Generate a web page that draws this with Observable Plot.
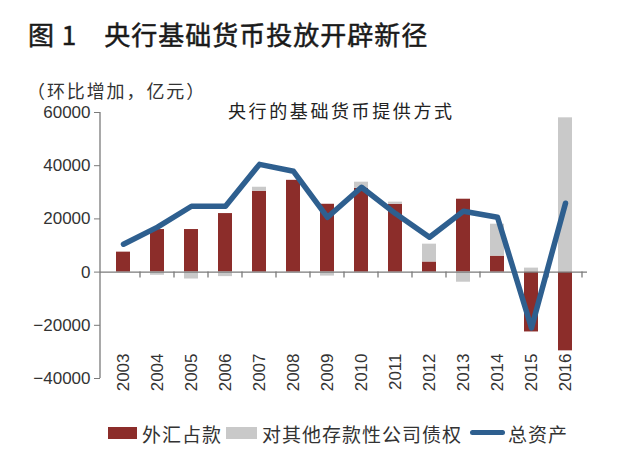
<!DOCTYPE html>
<html>
<head>
<meta charset="utf-8">
<script src="https://cdn.jsdelivr.net/npm/d3@7"></script>
<script src="https://cdn.jsdelivr.net/npm/@observablehq/plot@0.6"></script>
<style>
  html, body { margin: 0; padding: 0; background: #fff; }
  #wrap { position: relative; width: 640px; height: 458px; overflow: hidden; font-family: "Noto Sans CJK SC", "Noto Sans", sans-serif; color: #222; }
  .abs { position: absolute; white-space: nowrap; line-height: 1; }
  #title { left: 28px; top: 21px; font-size: 26px; font-weight: 400; -webkit-text-stroke: 0.5px #1a1a1a; letter-spacing: 1px; color: #1a1a1a; }
  #subtitle { left: 27px; top: 81px; font-size: 18px; letter-spacing: 1.9px; color: #333; }
  #inner { left: 228px; top: 101px; font-size: 18px; letter-spacing: 2.6px; color: #222; }
  #chart { position: absolute; left: 0; top: 100px; }
  .sw { position: absolute; }
  .lg { font-size: 19px; letter-spacing: 1px; color: #333; top: 424px; }
</style>
</head>
<body>
<div id="wrap">
  <div id="title" class="abs">图 1　央行基础货币投放开辟新径</div>
  <div id="subtitle" class="abs">（环比增加，亿元）</div>
  <div id="chart"></div>
  <div id="inner" class="abs">央行的基础货币提供方式</div>
  <div class="sw" style="left:108px;top:427px;width:29px;height:12px;background:#8c2d2a"></div>
  <div class="abs lg" style="left:142px">外汇占款</div>
  <div class="sw" style="left:226px;top:427px;width:31px;height:12px;background:#c9c9c9"></div>
  <div class="abs lg" style="left:262px">对其他存款性公司债权</div>
  <div class="sw" style="left:470px;top:430px;width:35px;height:5px;border-radius:2.5px;background:#2e5f8f"></div>
  <div class="abs lg" style="left:508px">总资产</div>
</div>
<script>
const years = ["2003","2004","2005","2006","2007","2008","2009","2010","2011","2012","2013","2014","2015","2016"];
const seriesNames = ["外汇占款", "对其他存款性公司债权"];
const fxValues    = [7500, 16000, 16000, 22000, 30400, 34500, 25500, 31500, 25500, 3800, 27400, 6000, -22500, -29600];
const otherValues = [0, -1200, -2600, -1700, 1500, 0, -1500, 2300, 800, 6700, -3800, 12000, 1500, 58000];
const totalValues = [10500, 16900, 24750, 24750, 40500, 37900, 20600, 31900, 22000, 13100, 22900, 20600, -21000, 25900];
const yTicks = [-40000, -20000, 0, 20000, 40000, 60000];
const yDomain = [-40000, 60000];

const red = "#8c2d2a", gray = "#c9c9c9", blue = "#2e5f8f", axisColor = "#7a7a7a";

const barRows = [
  ...years.map((y, i) => ({year: y, series: seriesNames[0], value: fxValues[i]})),
  ...years.map((y, i) => ({year: y, series: seriesNames[1], value: otherValues[i]}))
];
const totalRows = years.map((y, i) => ({year: y, value: totalValues[i]}));

function axisLines(index, scales, values, dimensions) {
  const {x, y} = scales;
  const g = d3.create("svg:g").attr("stroke", axisColor).attr("stroke-width", 1.3).attr("fill", "none");
  const step = x.step();
  g.append("line")
    .attr("x1", dimensions.marginLeft).attr("x2", dimensions.marginLeft)
    .attr("y1", y(yDomain[1])).attr("y2", y(yDomain[0]));
  for (const yr of years) {
    const bx = x(yr) + x.bandwidth() / 2 + step / 2;
    g.append("line").attr("x1", bx).attr("x2", bx).attr("y1", y(0)).attr("y2", y(0) + 6);
  }
  return g.node();
}

const chart = Plot.plot({
  width: 640,
  height: 310,
  marginLeft: 100,
  marginRight: 53,
  marginTop: 12,
  marginBottom: 32,
  style: {fontFamily: "'Liberation Sans', Arial, sans-serif", fontSize: "17px", color: "#333", background: "transparent"},
  x: {domain: years, paddingInner: 0.6, paddingOuter: 0.3},
  y: {domain: yDomain},
  color: {domain: seriesNames, range: [red, gray]},
  marks: [
    Plot.barY(barRows, Plot.stackY({x: "year", y: "value", fill: "series"})),
    Plot.ruleY([0], {stroke: axisColor, strokeWidth: 1.3}),
    axisLines,
    Plot.line(totalRows, {x: "year", y: "value", stroke: blue, strokeWidth: 5.5, strokeLinejoin: "round"}),
    Plot.axisY({ticks: yTicks, tickSize: 6, tickPadding: 4, stroke: axisColor, fill: "#333", label: null,
      tickFormat: d => d < 0 ? "\u2212" + Math.abs(d) : String(d)}),
    Plot.axisX({tickRotate: -90, tickSize: 0, tickPadding: 0, dy: -25, label: null, fill: "#333"})
  ]
});
document.getElementById("chart").appendChild(chart);
</script>
</body>
</html>
